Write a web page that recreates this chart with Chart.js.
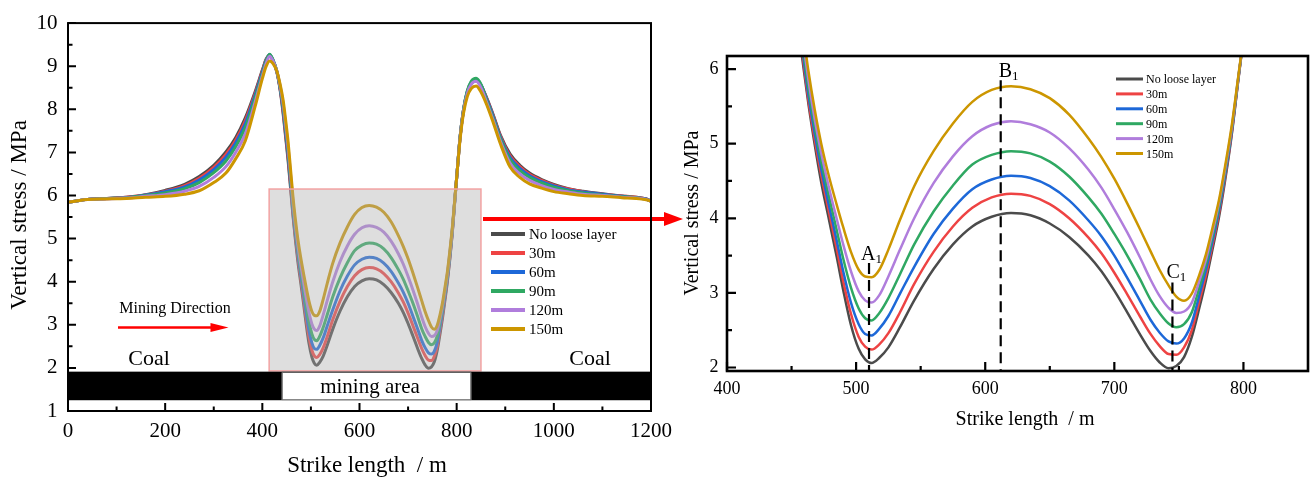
<!DOCTYPE html>
<html>
<head>
<meta charset="utf-8">
<script src="https://cdn.jsdelivr.net/npm/chart.js@4.4.1/dist/chart.umd.min.js"></script>
<style>
  html, body { margin: 0; padding: 0; background: #fff; }
  #wrap { position: relative; width: 1310px; height: 481px; overflow: hidden; background: #fff; }
  #wrap canvas { position: absolute; left: 0; top: 0; }
</style>
</head>
<body>
<div id="wrap">
  <canvas id="fullView" width="1310" height="481"></canvas>
  <canvas id="detailView" width="1310" height="481"></canvas>
</div>
<script>
// Strike position (m) of every sample
const strike = [0,20,40,80,120,160,200,240,270,300,325,345,365,385,400,408,415,422,430,437,443,448,453,458,463,468,473,479,485,490,496,502,507,512,518,525,534,545,560,575,590,605,620,635,650,665,680,690,700,710,720,728,735,742,748,754,760,766,771,776,781,786,791,796,801,807,814,822,830,840,850,862,875,890,910,930,950,975,1000,1030,1060,1100,1140,1170,1190,1200];

// Vertical stress (MPa) for each loose-layer thickness
const stressNoLoose = [5.84,5.88,5.91,5.93,5.96,6.02,6.12,6.26,6.44,6.70,
  7.01,7.34,7.80,8.40,8.91,9.17,9.25,9.12,8.86,8.42,
  7.88,7.35,6.81,6.18,5.54,4.98,4.48,3.98,3.48,3.04,
  2.57,2.25,2.11,2.06,2.13,2.27,2.54,2.90,3.32,3.65,
  3.89,4.02,4.07,4.04,3.93,3.75,3.50,3.29,3.03,2.74,
  2.44,2.22,2.07,1.99,2.02,2.14,2.41,2.81,3.17,3.58,
  4.01,4.53,5.13,5.85,6.55,7.35,7.98,8.40,8.60,8.66,
  8.55,8.26,7.88,7.40,6.96,6.70,6.52,6.37,6.26,6.16,
  6.10,6.04,5.99,5.96,5.92,5.87];
const stress30 = [5.84,5.88,5.91,5.93,5.96,6.01,6.10,6.23,6.40,6.65,
  6.95,7.28,7.74,8.36,8.89,9.16,9.26,9.13,8.87,8.44,
  7.93,7.41,6.88,6.25,5.59,5.05,4.58,4.08,3.59,3.16,
  2.72,2.41,2.28,2.24,2.31,2.46,2.74,3.12,3.55,3.89,
  4.14,4.28,4.33,4.30,4.19,4.00,3.74,3.53,3.27,2.98,
  2.68,2.45,2.29,2.18,2.17,2.27,2.50,2.90,3.24,3.64,
  4.06,4.57,5.15,5.86,6.55,7.35,7.98,8.41,8.62,8.68,
  8.56,8.25,7.86,7.38,6.92,6.67,6.49,6.35,6.24,6.15,
  6.09,6.03,5.99,5.96,5.92,5.87];
const stress60 = [5.84,5.88,5.91,5.93,5.95,6.01,6.09,6.20,6.36,6.60,
  6.89,7.22,7.67,8.32,8.86,9.14,9.27,9.14,8.87,8.46,
  7.98,7.47,6.95,6.32,5.66,5.13,4.66,4.17,3.70,3.29,
  2.87,2.58,2.45,2.43,2.52,2.69,2.99,3.35,3.79,4.13,
  4.39,4.52,4.57,4.54,4.43,4.24,3.97,3.76,3.50,3.20,
  2.89,2.64,2.47,2.35,2.32,2.39,2.60,2.98,3.31,3.69,
  4.10,4.60,5.17,5.87,6.55,7.35,7.98,8.42,8.63,8.70,
  8.57,8.23,7.84,7.35,6.88,6.63,6.46,6.32,6.22,6.13,
  6.08,6.03,5.98,5.95,5.92,5.87];
const stress90 = [5.84,5.88,5.91,5.93,5.95,6.00,6.06,6.16,6.30,6.53,
  6.80,7.13,7.58,8.26,8.82,9.12,9.28,9.15,8.88,8.48,
  8.04,7.55,7.03,6.40,5.75,5.22,4.76,4.29,3.84,3.46,
  3.07,2.79,2.66,2.63,2.73,2.93,3.25,3.65,4.09,4.44,
  4.72,4.85,4.90,4.87,4.76,4.56,4.28,4.06,3.79,3.50,
  3.18,2.91,2.73,2.59,2.54,2.58,2.74,3.08,3.38,3.75,
  4.15,4.64,5.20,5.88,6.55,7.36,7.99,8.43,8.65,8.72,
  8.58,8.20,7.80,7.32,6.83,6.58,6.42,6.29,6.19,6.11,
  6.06,6.01,5.97,5.95,5.91,5.87];
const stress120 = [5.84,5.88,5.91,5.92,5.94,5.98,6.02,6.10,6.21,6.42,
  6.67,7.00,7.43,8.16,8.77,9.07,9.23,9.12,8.88,8.52,
  8.11,7.64,7.13,6.50,5.86,5.32,4.87,4.41,3.99,3.65,
  3.29,3.02,2.90,2.87,2.97,3.22,3.58,4.00,4.47,4.83,
  5.10,5.25,5.30,5.26,5.15,4.94,4.65,4.41,4.12,3.81,
  3.47,3.18,2.96,2.80,2.73,2.75,2.87,3.17,3.45,3.81,
  4.20,4.68,5.22,5.89,6.55,7.33,7.95,8.37,8.58,8.65,
  8.50,8.15,7.75,7.26,6.75,6.50,6.35,6.23,6.14,6.08,
  6.03,6.00,5.96,5.94,5.91,5.87];
const stress150 = [5.84,5.88,5.91,5.92,5.93,5.96,5.98,6.03,6.11,6.30,
  6.52,6.85,7.27,8.06,8.71,9.00,9.12,9.06,8.88,8.56,
  8.20,7.75,7.25,6.62,5.98,5.45,5.00,4.56,4.18,3.88,
  3.55,3.31,3.22,3.21,3.31,3.58,3.98,4.43,4.90,5.27,
  5.56,5.72,5.77,5.73,5.61,5.39,5.07,4.82,4.53,4.20,
  3.85,3.56,3.31,3.10,2.95,2.895,2.99,3.25,3.52,3.87,
  4.24,4.72,5.25,5.90,6.55,7.30,7.90,8.30,8.48,8.54,
  8.40,8.10,7.70,7.20,6.66,6.42,6.27,6.17,6.09,6.04,
  6.00,5.98,5.95,5.93,5.90,5.87];

const seriesLabels = ['No loose layer', '30m', '60m', '90m', '120m', '150m'];
const seriesValues = [stressNoLoose, stress30, stress60, stress90, stress120, stress150];
const seriesColors = ['#4b4b4b', '#ee4343', '#1d68d8', '#2fa862', '#b07ddc', '#cc9600'];

// Axis ticks
const fullXTicks = [0, 200, 400, 600, 800, 1000, 1200];
const fullXMinor = [100, 300, 500, 700, 900, 1100];
const fullYTicks = [1, 2, 3, 4, 5, 6, 7, 8, 9, 10];
const fullYMinor = [1.5, 2.5, 3.5, 4.5, 5.5, 6.5, 7.5, 8.5, 9.5];
const detailXTicks = [400, 500, 600, 700, 800];
const detailXMinor = [450, 550, 650, 750];
const detailYTicks = [2, 3, 4, 5, 6];
const detailYMinor = [2.5, 3.5, 4.5, 5.5];

// Annotation geometry in data units
const zoomWindow = { x0: 414, x1: 850, y0: 1.93, y1: 6.15 };
const coalSeam = { y0: 1.25, y1: 1.913 };
const miningArea = { x0: 440, x1: 830 };
const markerLines = [
  { x: 510, top: 3.40, name: 'A' },
  { x: 612, top: 5.85, name: 'B' },
  { x: 745, top: 3.14, name: 'C' }
];

const SERIF = '"Liberation Serif", "Times New Roman", serif';

function makeDatasets(width) {
  return seriesValues.map((vals, i) => ({
    label: seriesLabels[i],
    data: strike.map((x, j) => ({ x: x, y: vals[j] })),
    borderColor: seriesColors[i],
    backgroundColor: seriesColors[i],
    borderWidth: width,
    pointRadius: 0,
    fill: false,
    cubicInterpolationMode: 'monotone',
    order: seriesValues.length - 1 - i
  }));
}

function drawFrame(chart, o) {
  const { ctx, chartArea: a, scales } = chart;
  const xs = scales.x, ys = scales.y;
  ctx.save();
  ctx.strokeStyle = '#000';
  ctx.lineWidth = o.tickWidth;
  ctx.beginPath();
  o.xMajor.forEach(v => { const p = xs.getPixelForValue(v); ctx.moveTo(p, a.bottom); ctx.lineTo(p, a.bottom - o.major); });
  o.xMinor.forEach(v => { const p = xs.getPixelForValue(v); ctx.moveTo(p, a.bottom); ctx.lineTo(p, a.bottom - o.minor); });
  o.yMajor.forEach(v => { const p = ys.getPixelForValue(v); ctx.moveTo(a.left, p); ctx.lineTo(a.left + o.major, p); });
  o.yMinor.forEach(v => { const p = ys.getPixelForValue(v); ctx.moveTo(a.left, p); ctx.lineTo(a.left + o.minor, p); });
  ctx.stroke();
  ctx.lineWidth = o.frameWidth;
  ctx.strokeRect(a.left, a.top, a.right - a.left, a.bottom - a.top);
  ctx.restore();
}

function drawAxisTitles(ctx, o) {
  ctx.save();
  ctx.fillStyle = '#000';
  ctx.textAlign = 'center';
  ctx.textBaseline = 'middle';
  ctx.font = o.size + 'px ' + SERIF;
  ctx.fillText('Strike length  / m', o.xTitle[0], o.xTitle[1]);
  ctx.translate(o.yTitle[0], o.yTitle[1]);
  ctx.rotate(-Math.PI / 2);
  ctx.fillText('Vertical stress / MPa', 0, 0);
  ctx.restore();
}

function drawLegend(ctx, o) {
  ctx.save();
  ctx.font = o.size + 'px ' + SERIF;
  ctx.textAlign = 'left';
  ctx.textBaseline = 'middle';
  seriesLabels.forEach((lab, i) => {
    const y = o.top + i * o.step;
    ctx.strokeStyle = seriesColors[i];
    ctx.lineWidth = o.lineWidth;
    ctx.beginPath();
    ctx.moveTo(o.x0, y);
    ctx.lineTo(o.x1, y);
    ctx.stroke();
    ctx.fillStyle = '#000';
    ctx.fillText(lab, o.textX, y + 1);
  });
  ctx.restore();
}

function arrow(ctx, x0, x1, y, width, headLen, headHalf) {
  ctx.save();
  ctx.strokeStyle = '#ff0000';
  ctx.fillStyle = '#ff0000';
  ctx.lineWidth = width;
  ctx.beginPath();
  ctx.moveTo(x0, y);
  ctx.lineTo(x1 - headLen + 1, y);
  ctx.stroke();
  ctx.beginPath();
  ctx.moveTo(x1, y);
  ctx.lineTo(x1 - headLen, y - headHalf);
  ctx.lineTo(x1 - headLen, y + headHalf);
  ctx.closePath();
  ctx.fill();
  ctx.restore();
}

const fullViewDecor = {
  id: 'fullViewDecor',
  afterDatasetsDraw(chart) {
    const { ctx, chartArea: a, scales: { x, y } } = chart;
    ctx.save();
    // zoom window laid over the curves
    const bx0 = x.getPixelForValue(zoomWindow.x0), bx1 = x.getPixelForValue(zoomWindow.x1);
    const by0 = y.getPixelForValue(zoomWindow.y1), by1 = y.getPixelForValue(zoomWindow.y0);
    ctx.fillStyle = 'rgba(172,172,172,0.40)';
    ctx.fillRect(bx0, by0, bx1 - bx0, by1 - by0);
    ctx.strokeStyle = '#f3a3a3';
    ctx.lineWidth = 1.5;
    ctx.strokeRect(bx0, by0, bx1 - bx0, by1 - by0);

    // coal seam and the mined-out panel
    const sy0 = y.getPixelForValue(coalSeam.y1), sy1 = y.getPixelForValue(coalSeam.y0);
    ctx.fillStyle = '#000';
    ctx.fillRect(a.left, sy0, a.right - a.left, sy1 - sy0);
    const mx0 = x.getPixelForValue(miningArea.x0), mx1 = x.getPixelForValue(miningArea.x1);
    ctx.fillStyle = '#fff';
    ctx.fillRect(mx0, sy0 + 1, mx1 - mx0, sy1 - sy0 - 1);
    ctx.strokeStyle = '#666';
    ctx.lineWidth = 1;
    ctx.strokeRect(mx0 + 0.5, sy0 + 0.5, mx1 - mx0 - 1, sy1 - sy0 - 1);

    ctx.fillStyle = '#000';
    ctx.textAlign = 'center';
    ctx.textBaseline = 'alphabetic';
    ctx.font = '21px ' + SERIF;
    ctx.fillText('mining area', 370, 393);
    ctx.font = '22px ' + SERIF;
    ctx.fillText('Coal', 149, 365);
    ctx.fillText('Coal', 590, 365);
    ctx.font = '16px ' + SERIF;
    ctx.fillText('Mining Direction', 175, 313);
    ctx.restore();

    arrow(ctx, 118, 228.5, 327.5, 2.5, 18, 4.5);
    arrow(ctx, 483, 683, 219, 4, 19, 7);

    drawLegend(ctx, { x0: 491, x1: 525, textX: 529, top: 234, step: 19, size: 15, lineWidth: 4 });
  },
  afterDraw(chart) {
    drawFrame(chart, { xMajor: fullXTicks, xMinor: fullXMinor, yMajor: fullYTicks, yMinor: fullYMinor,
      major: 8, minor: 4.5, tickWidth: 2, frameWidth: 2 });
    drawAxisTitles(chart.ctx, { size: 23, xTitle: [367, 466], yTitle: [20, 215] });
  }
};

const detailViewDecor = {
  id: 'detailViewDecor',
  afterDatasetsDraw(chart) {
    const { ctx, chartArea: a, scales: { x, y } } = chart;
    ctx.save();
    ctx.strokeStyle = '#000';
    ctx.lineWidth = 2.2;
    ctx.setLineDash([11, 6]);
    markerLines.forEach(m => {
      const px = x.getPixelForValue(m.x);
      ctx.beginPath();
      ctx.moveTo(px, y.getPixelForValue(m.top));
      ctx.lineTo(px, a.bottom);
      ctx.stroke();
    });
    ctx.setLineDash([]);
    ctx.fillStyle = '#000';
    ctx.textAlign = 'left';
    ctx.textBaseline = 'alphabetic';
    const labelPos = { A: [-8, 260], B: [-2, 77], C: [-6, 278] };
    markerLines.forEach(m => {
      const px = x.getPixelForValue(m.x) + labelPos[m.name][0];
      const base = labelPos[m.name][1];
      ctx.font = '20px ' + SERIF;
      ctx.fillText(m.name, px, base);
      const w = ctx.measureText(m.name).width;
      ctx.font = '13px ' + SERIF;
      ctx.fillText('1', px + w, base + 3);
    });
    ctx.restore();
    drawLegend(ctx, { x0: 1116, x1: 1143, textX: 1146, top: 79, step: 14.9, size: 12, lineWidth: 3 });
  },
  afterDraw(chart) {
    drawFrame(chart, { xMajor: detailXTicks, xMinor: detailXMinor, yMajor: detailYTicks, yMinor: detailYMinor,
      major: 9, minor: 5, tickWidth: 2.2, frameWidth: 2.6 });
    drawAxisTitles(chart.ctx, { size: 20, xTitle: [1025, 420], yTitle: [693, 213] });
  }
};

function axisOptions(o) {
  return {
    x: {
      type: 'linear', min: o.xMin, max: o.xMax,
      grid: { display: false, drawTicks: false }, border: { display: false },
      ticks: { stepSize: o.xStep, includeBounds: false, autoSkip: false, maxRotation: 0,
        padding: o.xPad, color: '#000', font: { family: SERIF, size: o.tickSize },
        callback: v => String(v) },
      afterFit(s) { s.height = o.xHeight; }
    },
    y: {
      type: 'linear', min: o.yMin, max: o.yMax,
      grid: { display: false, drawTicks: false }, border: { display: false },
      ticks: { stepSize: 1, includeBounds: false, autoSkip: false,
        padding: o.yPad, color: '#000', font: { family: SERIF, size: o.tickSize },
        callback: v => String(v) },
      afterFit(s) { s.width = o.yWidth; }
    }
  };
}

new Chart(document.getElementById('fullView'), {
  type: 'line',
  data: { datasets: makeDatasets(3) },
  options: {
    responsive: false, animation: false, devicePixelRatio: 1,
    layout: { padding: { left: 0, right: 659, top: 18, bottom: 0 } },
    plugins: { legend: { display: false }, tooltip: { enabled: false } },
    scales: axisOptions({ xMin: 0, xMax: 1200, xStep: 200, yMin: 1, yMax: 10,
      xPad: 8, yPad: 10.5, tickSize: 21, xHeight: 70, yWidth: 68 })
  },
  plugins: [fullViewDecor]
});

new Chart(document.getElementById('detailView'), {
  type: 'line',
  data: { datasets: makeDatasets(2.5) },
  options: {
    responsive: false, animation: false, devicePixelRatio: 1,
    layout: { padding: { left: 661, right: 2, top: 56, bottom: 0 } },
    plugins: { legend: { display: false }, tooltip: { enabled: false } },
    scales: axisOptions({ xMin: 400, xMax: 850, xStep: 100, yMin: 1.953, yMax: 6.175,
      xPad: 7, yPad: 8.5, tickSize: 18, xHeight: 110, yWidth: 66 })
  },
  plugins: [detailViewDecor]
});
</script>
</body>
</html>
